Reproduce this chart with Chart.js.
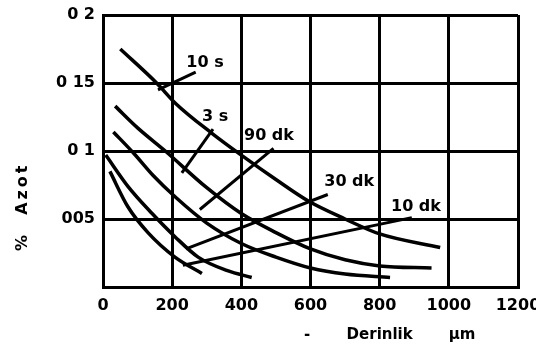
<!DOCTYPE html>
<html>
<head>
<meta charset="utf-8">
<script src="https://cdn.jsdelivr.net/npm/chart.js@4/dist/chart.umd.min.js"></script>
<style>
  body { margin: 0; background: #fff; }
  #wrap { width: 536px; height: 351px; }
</style>
</head>
<body>
<div id="wrap"><canvas id="myChart1" width="536" height="351"></canvas></div>
<script>
// tick labels as printed on the figure
const xTickLabels = ['0', '200', '400', '600', '800', '1000', '1200'];
const yTickLabels = ['', '005', '0 1', '0 15', '0 2'];

// depth (um) / nitrogen (%)
const c1x = [50, 155, 210, 315, 405, 500, 595, 700, 800, 975];
const c1y = [0.175, 0.15, 0.135, 0.113, 0.096, 0.079, 0.063, 0.05, 0.039, 0.029];
const c2x = [35, 100, 180, 300, 400, 500, 600, 700, 800, 950];
const c2y = [0.133, 0.117, 0.1, 0.073, 0.054, 0.04, 0.028, 0.02, 0.0155, 0.014];
const c3x = [30, 90, 145, 210, 300, 400, 500, 600, 700, 830];
const c3y = [0.114, 0.098, 0.082, 0.066, 0.047, 0.032, 0.022, 0.014, 0.0095, 0.007];
const c4x = [8, 72, 142, 208, 275, 360, 430];
const c4y = [0.097, 0.074, 0.054, 0.037, 0.022, 0.012, 0.007];
const c5x = [20, 72, 130, 208, 286];
const c5y = [0.085, 0.059, 0.040, 0.022, 0.01];

// label names and their pointer lines
const curveNames = ['10 s', '3 s', '90 dk', '30 dk', '10 dk'];
const nameX = [295, 324, 480, 712, 905];
const nameY = [0.165, 0.125, 0.111, 0.077, 0.059];
const leadX = [[159, 268], [228, 318], [280, 493], [240, 650], [231, 893]];
const leadY = [[0.145, 0.158], [0.084, 0.116], [0.057, 0.102], [0.028, 0.068], [0.016, 0.051]];

function pts(xs, ys) {
    return xs.map(function(x, i) { return {x: x, y: ys[i]}; });
}

const curves = [[c1x, c1y], [c2x, c2y], [c3x, c3y], [c4x, c4y], [c5x, c5y]];
const datasets = [];
curves.forEach(function(c) {
    datasets.push({
        data: pts(c[0], c[1]),
        borderColor: '#000',
        borderWidth: 3.5,
        pointRadius: 0,
        cubicInterpolationMode: 'monotone',
        fill: false
    });
});
leadX.forEach(function(lx, i) {
    datasets.push({
        data: pts(lx, leadY[i]),
        borderColor: '#000',
        borderWidth: 3,
        pointRadius: 0,
        fill: false
    });
});

const FONT = 'bold 16px "DejaVu Sans"';

// draws the curve names and the axis titles as text
const textPlugin = {
    id: 'textPlugin',
    afterDatasetsDraw: function(chart) {
        const ctx = chart.ctx;
        const xs = chart.scales.x;
        const ys = chart.scales.y;
        const area = chart.chartArea;
        ctx.save();
        ctx.fillStyle = '#000';
        ctx.font = FONT;
        ctx.textAlign = 'center';
        ctx.textBaseline = 'middle';
        curveNames.forEach(function(n, i) {
            ctx.fillText(n, xs.getPixelForValue(nameX[i]), ys.getPixelForValue(nameY[i]));
        });
        // x axis title
        const ty = area.bottom + 48;
        ctx.font = 'bold 15px "DejaVu Sans"';
        ctx.fillText('-', xs.getPixelForValue(590), ty);
        ctx.fillText('Derinlik', xs.getPixelForValue(800), ty);
        ctx.fillText('\u00b5m', xs.getPixelForValue(1038), ty);
        // y axis title
        ctx.translate(23, ys.getPixelForValue(0.059));
        ctx.rotate(-Math.PI / 2);
        ctx.letterSpacing = '3px';
        ctx.font = 'bold 16px "DejaVu Sans"';
        ctx.fillText('%  Azot', 0, 0);
        ctx.restore();
    }
};

const config = {
    type: 'line',
    data: { datasets: datasets },
    options: {
        responsive: false,
        animation: false,
        layout: { padding: { top: 15, right: 18, left: 0, bottom: 0 } },
        scales: {
            x: {
                type: 'linear',
                min: 0,
                max: 1200,
                afterFit: function(s) { s.height = 64; s.paddingRight = 0; s.paddingLeft = 0; },
                grid: { color: '#000', lineWidth: 3, drawTicks: false },
                border: { color: '#000', width: 3 },
                ticks: {
                    stepSize: 200,
                    padding: 9,
                    color: '#000',
                    font: { family: 'DejaVu Sans', weight: 'bold', size: 16 },
                    callback: function(v, i) { return xTickLabels[i]; }
                }
            },
            y: {
                type: 'linear',
                min: 0,
                max: 0.2,
                afterFit: function(s) { s.width = 103; s.paddingTop = 0; s.paddingBottom = 0; },
                grid: { color: '#000', lineWidth: 3, drawTicks: false },
                border: { color: '#000', width: 3 },
                ticks: {
                    stepSize: 0.05,
                    padding: 8,
                    color: '#000',
                    font: { family: 'DejaVu Sans', weight: 'bold', size: 16 },
                    callback: function(v, i) { return yTickLabels[i]; }
                }
            }
        },
        plugins: {
            legend: { display: false },
            tooltip: { enabled: false }
        }
    },
    plugins: [textPlugin]
};

var myChart = new Chart(document.getElementById('myChart1'), config);
</script>
</body>
</html>
